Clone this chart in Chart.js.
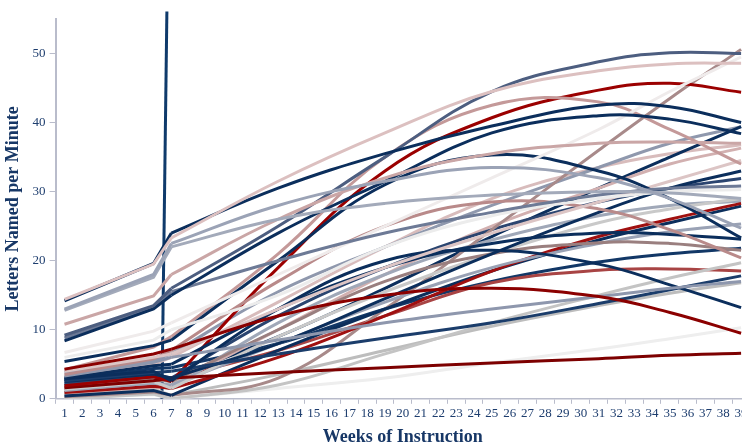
<!DOCTYPE html>
<html>
<head>
<meta charset="utf-8">
<script src="https://cdn.jsdelivr.net/npm/chart.js@4.4.1/dist/chart.umd.min.js"></script>
<style>
  html, body { margin: 0; padding: 0; background: #ffffff; overflow: hidden; }
  #wrap { width: 750px; height: 446px; }
</style>
</head>
<body>
<div id="wrap"><canvas id="chart" width="750" height="446"></canvas></div>
<script>
// Weeks at which each phase is sampled
const baselineWeeks = [1, 6, 7];
const interventionWeeks = [7, 13, 19, 25, 31, 35, 39];
const weekLabels = Array.from({ length: 39 }, (_, i) => String(i + 1));
const yTicks = [0, 10, 20, 30, 40, 50];

// Phase-change line (bottom and top of the marker)
const phaseLineX = [6.47, 6.75];
const phaseLineY = [0, 56.1];

// Letters named per minute, one row per student: baseline weeks 1, 6, 7
const baselineScores = [
  [14.4, 19.5, 23.3],
  [14.2, 19.6, 24.0],
  [13.0, 18.0, 22.5],
  [12.8, 17.6, 22.0],
  [10.8, 14.9, 18.0],
  [9.2, 13.5, 16.0],
  [8.4, 13.0, 15.0],
  [8.8, 13.2, 15.5],
  [6.7, 9.8, 11.0],
  [6.0, 8.5, 10.0],
  [5.4, 7.7, 8.5],
  [4.3, 6.5, 7.2],
  [4.2, 7.5, 9.0],
  [4.0, 6.0, 6.5],
  [3.5, 5.8, 7.0],
  [3.3, 5.3, 6.0],
  [3.0, 4.8, 5.0],
  [2.9, 4.0, 2.6],
  [2.6, 3.8, 4.0],
  [2.5, 3.6, 3.0],
  [1.9, 3.2, 2.5],
  [1.6, 2.6, 3.0],
  [1.7, 2.8, 2.5],
  [1.4, 2.5, 1.5],
  [1.2, 2.3, 2.0],
  [0.9, 1.8, 1.5],
  [0.4, 1.2, 0.5],
  [0.3, 1.0, 0.5],
  [0.0, 0.7, 0.0],
  [0.2, 0.6, 0.0],
  [1.0, 2.0, 1.5],
  [2.2, 3.4, 3.0],
  [0.8, 1.6, 2.0],
  [1.5, 2.4, 3.0],
  [2.0, 3.0, 3.0],
  [3.8, 5.5, 6.5],
  [0.5, 1.4, 0.5],
  [2.8, 4.4, 4.5],
  [3.1, 5.0, 6.0]
];

// Intervention weeks 7, 13, 19, 25, 31, 35, 39
const interventionScores = [
  [23.3, 31.5, 38.5, 44.5, 47.5, 48.5, 48.6],
  [24.0, 30.5, 35.5, 39.5, 42.5, 42.3, 40.0],
  [22.5, 28.0, 31.5, 33.5, 32.0, 29.0, 24.7],
  [22.0, 26.0, 28.3, 29.5, 30.0, 29.8, 29.0],
  [18.0, 26.0, 32.0, 35.5, 37.0, 37.2, 37.0],
  [16.0, 25.0, 35.0, 44.5, 48.8, 50.1, 50.0],
  [15.0, 24.0, 31.5, 38.5, 41.0, 40.5, 38.4],
  [15.5, 20.0, 24.0, 27.0, 29.5, 30.5, 30.8],
  [11.0, 18.0, 25.0, 32.0, 39.0, 44.5, 49.5],
  [10.0, 15.0, 22.0, 26.5, 29.0, 30.0, 30.3],
  [8.5, 20.0, 31.0, 35.3, 33.0, 29.0, 23.3],
  [7.2, 12.0, 15.0, 16.0, 14.8, 12.5, 9.5],
  [9.0, 21.0, 35.0, 42.5, 43.0, 39.0, 34.0],
  [6.5, 13.0, 19.0, 24.0, 28.5, 31.5, 34.5],
  [7.0, 17.0, 25.0, 28.5, 27.5, 24.5, 20.4],
  [6.0, 8.5, 11.0, 13.0, 14.8, 16.0, 17.0],
  [5.0, 13.0, 19.0, 22.5, 24.0, 23.8, 23.1],
  [2.6, 13.0, 20.0, 21.5, 19.5, 16.5, 13.2],
  [4.0, 6.5, 8.8, 11.0, 13.8, 15.8, 17.8],
  [3.0, 8.0, 14.5, 21.0, 27.0, 30.5, 33.0],
  [2.5, 19.0, 33.0, 40.7, 44.7, 45.7, 44.4],
  [3.0, 3.8, 4.5, 5.2, 5.8, 6.3, 6.6],
  [2.5, 10.0, 17.0, 21.0, 22.6, 22.5, 21.5],
  [1.5, 9.0, 15.5, 21.0, 25.5, 27.5, 29.0],
  [2.0, 8.0, 14.0, 19.0, 22.5, 24.2, 25.3],
  [1.5, 6.0, 12.0, 18.5, 23.5, 26.0, 28.3],
  [0.5, 7.0, 13.0, 18.5, 23.0, 25.5, 27.9],
  [0.5, 3.0, 13.0, 24.5, 36.0, 43.5, 50.6],
  [0.0, 2.0, 6.5, 11.0, 15.0, 17.5, 19.7],
  [0.0, 1.5, 3.0, 5.2, 7.2, 8.7, 10.3],
  [1.5, 11.0, 18.0, 23.0, 26.5, 28.0, 28.6],
  [3.0, 12.0, 19.0, 24.5, 28.5, 30.5, 31.9],
  [2.0, 10.0, 18.0, 25.0, 30.5, 34.0, 36.3],
  [3.0, 7.0, 12.0, 16.8, 18.6, 18.8, 18.5],
  [3.0, 9.0, 16.0, 23.5, 30.5, 35.0, 39.4],
  [6.5, 15.5, 22.0, 28.0, 33.5, 37.0, 39.4],
  [0.5, 3.5, 7.0, 10.5, 13.5, 15.3, 16.8],
  [4.5, 8.0, 13.0, 17.0, 19.8, 21.0, 21.8],
  [6.0, 14.0, 22.0, 29.0, 33.5, 35.5, 36.8]
];

// One colour per student
const studentColors = [
  '#dcc0c0', '#0b2e5c', '#9ba3b6', '#a3aaba', '#caa6a6', '#4d5e80', '#0b2e5c', '#6d7a96',
  '#efebeb', '#ececec', '#0b2e5c', '#8b0000', '#c49999', '#dcc5c5', '#b98a8a', '#8e97ad',
  '#0b2e5c', '#0b2e5c', '#1b3d6b', '#0b2e5c', '#9b0000', '#7d0000', '#9a7f7f', '#c9c9c9',
  '#9aa2b5', '#a01010', '#0b2e5c', '#a88a8a', '#c4c4c4', '#eeeeee', '#a0a8b8', '#2b4570',
  '#d2b0b0', '#a84444', '#0b2e5c', '#8f98ad', '#bdbdbd', '#123766', '#d8bcbc'
];

const NAVY_TEXT = '#1d3d6e';
const AXIS_GRAY = '#b9bccb';
const SERIF = "'Liberation Serif', 'Times New Roman', serif";

const datasets = [];
baselineScores.forEach((row, i) => {
  datasets.push({
    data: baselineWeeks.map((w, j) => ({ x: w, y: row[j] })),
    borderColor: studentColors[i],
    borderWidth: 3,
    tension: 0,
    pointRadius: 0,
    fill: false
  });
  datasets.push({
    data: interventionWeeks.map((w, j) => ({ x: w, y: interventionScores[i][j] })),
    borderColor: studentColors[i],
    borderWidth: 3,
    tension: 0.4,
    pointRadius: 0,
    fill: false
  });
});

// Vertical marker between baseline and intervention phases
datasets.push({
  data: phaseLineX.map((x, j) => ({ x, y: phaseLineY[j] })),
  borderColor: '#0f3a6b',
  borderWidth: 3,
  tension: 0,
  pointRadius: 0,
  fill: false,
  clip: false
});

new Chart(document.getElementById('chart'), {
  type: 'line',
  data: { datasets },
  options: {
    responsive: false,
    animation: false,
    devicePixelRatio: 1,
    layout: { padding: { left: 3, right: 0, top: 19, bottom: -2 } },
    plugins: { legend: { display: false }, tooltip: { enabled: false } },
    scales: {
      xMarks: {
        type: 'linear',
        position: 'bottom',
        weight: 0,
        min: 0.5,
        max: 39.5,
        afterBuildTicks: (axis) => {
          axis.ticks = weekLabels.map((_, i) => ({ value: i + 0.5 })).concat([{ value: 39.5 }]);
        },
        ticks: { display: false },
        grid: { drawOnChartArea: false, drawTicks: true, tickLength: 5, color: AXIS_GRAY, lineWidth: 1 },
        border: { color: AXIS_GRAY, width: 1.5 }
      },
      x: {
        type: 'linear',
        position: 'bottom',
        weight: 1,
        min: 0.5,
        max: 39.5,
        afterBuildTicks: (axis) => {
          axis.ticks = weekLabels.map((_, i) => ({ value: i + 1 }));
        },
        ticks: {
          autoSkip: false,
          maxRotation: 0,
          padding: 2,
          color: NAVY_TEXT,
          font: { family: SERIF, size: 13 },
          callback: (v) => weekLabels[Math.round(v) - 1]
        },
        grid: { display: false, drawTicks: false },
        border: { display: false },
        title: {
          display: true,
          text: 'Weeks of Instruction',
          color: '#173766',
          font: { family: SERIF, size: 18, weight: 'bold' },
          padding: { top: 3, bottom: 0 }
        }
      },
      y: {
        type: 'linear',
        min: 0,
        max: 55,
        afterBuildTicks: (axis) => {
          axis.ticks = yTicks.map((v) => ({ value: v }));
        },
        ticks: {
          color: NAVY_TEXT,
          font: { family: SERIF, size: 13 },
          padding: 4
        },
        grid: { drawOnChartArea: false, drawTicks: true, tickLength: 6, color: AXIS_GRAY },
        border: { color: AXIS_GRAY, width: 2 },
        title: {
          display: true,
          text: 'Letters Named per Minute',
          color: '#173766',
          font: { family: SERIF, size: 18, weight: 'bold' },
          padding: { top: 0, bottom: 4 }
        }
      }
    }
  }
});
</script>
</body>
</html>
